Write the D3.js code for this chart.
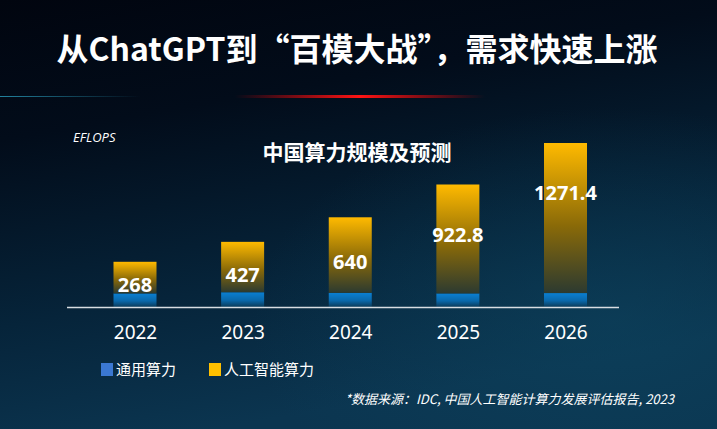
<!DOCTYPE html>
<html>
<head>
<meta charset="utf-8">
<script src="https://cdn.jsdelivr.net/npm/d3@7"></script>
<style>
  html, body { margin: 0; padding: 0; background: #020a16; }
  svg { display: block; font-family: "Noto Sans CJK SC", "Noto Sans", sans-serif; }
</style>
</head>
<body>
<div id="chart"></div>
<script>
// data
var years = ["2022", "2023", "2024", "2025", "2026"];
var generalValues = [115, 125, 120, 115, 118];      // 通用算力 (estimated from bar)
var aiValues = [268, 427, 640, 922.8, 1271.4];      // 人工智能算力
var aiLabels = ["268", "427", "640", "922.8", "1271.4"];
var legendNames = ["通用算力", "人工智能算力"];

var width = 717, height = 429;

var svg = d3.select("#chart")
  .append("svg")
  .attr("width", width)
  .attr("height", height);

var defs = svg.append("defs");

// background
var bg = defs.append("linearGradient").attr("id", "bg")
  .attr("x1", "0").attr("y1", "0").attr("x2", "0.3").attr("y2", "1");
bg.append("stop").attr("offset", "0%").attr("stop-color", "#01050f");
bg.append("stop").attr("offset", "30%").attr("stop-color", "#020c1a");
bg.append("stop").attr("offset", "70%").attr("stop-color", "#06243a");
bg.append("stop").attr("offset", "100%").attr("stop-color", "#0b3550");

var glow = defs.append("radialGradient").attr("id", "glow")
  .attr("cx", "0.85").attr("cy", "0.75").attr("r", "0.5");
glow.append("stop").attr("offset", "0%").attr("stop-color", "#0d4560").attr("stop-opacity", 0.55);
glow.append("stop").attr("offset", "100%").attr("stop-color", "#0d4560").attr("stop-opacity", 0);

// red line under title
var red = defs.append("linearGradient").attr("id", "redline");
red.append("stop").attr("offset", "0%").attr("stop-color", "#ff0000").attr("stop-opacity", 0);
red.append("stop").attr("offset", "50%").attr("stop-color", "#ff1414").attr("stop-opacity", 1);
red.append("stop").attr("offset", "100%").attr("stop-color", "#ff0000").attr("stop-opacity", 0);

var cyan = defs.append("linearGradient").attr("id", "cyanline");
cyan.append("stop").attr("offset", "0%").attr("stop-color", "#2aa0c0").attr("stop-opacity", 0.8);
cyan.append("stop").attr("offset", "100%").attr("stop-color", "#2aa0c0").attr("stop-opacity", 0);

// bar gradients
var gy = defs.append("linearGradient").attr("id", "gyellow")
  .attr("x1", 0).attr("y1", 0).attr("x2", 0).attr("y2", 1);
gy.append("stop").attr("offset", "0%").attr("stop-color", "#ffba00");
gy.append("stop").attr("offset", "55%").attr("stop-color", "#8a6a08");
gy.append("stop").attr("offset", "100%").attr("stop-color", "#2c3a30");

var gb = defs.append("linearGradient").attr("id", "gblue")
  .attr("x1", 0).attr("y1", 0).attr("x2", 0).attr("y2", 1);
gb.append("stop").attr("offset", "0%").attr("stop-color", "#0a7fd2");
gb.append("stop").attr("offset", "55%").attr("stop-color", "#0a68aa");
gb.append("stop").attr("offset", "100%").attr("stop-color", "#0b3a58");

svg.append("rect").attr("width", width).attr("height", height).attr("fill", "url(#bg)");
svg.append("rect").attr("width", width).attr("height", height).attr("fill", "url(#glow)");

// title
svg.append("text")
  .attr("x", 357).attr("y", 61)
  .attr("text-anchor", "middle")
  .attr("fill", "#ffffff")
  .style("font-size", "32px")
  .style("font-weight", "bold")
  .text("从ChatGPT到“百模大战”，需求快速上涨");

svg.append("rect").attr("x", 235).attr("y", 95).attr("width", 250).attr("height", 3)
  .attr("fill", "url(#redline)");
svg.append("rect").attr("x", 0).attr("y", 96).attr("width", 140).attr("height", 1)
  .attr("fill", "url(#cyanline)");

// unit + chart title
svg.append("text")
  .attr("x", 73).attr("y", 142)
  .attr("fill", "#ffffff")
  .style("font-size", "13px")
  .style("font-style", "italic")
  .style("font-family", "'Open Sans', 'Noto Sans', sans-serif")
  .text("EFLOPS");

svg.append("text")
  .attr("x", 357).attr("y", 160)
  .attr("text-anchor", "middle")
  .attr("fill", "#ffffff")
  .style("font-size", "21px")
  .style("font-weight", "bold")
  .text("中国算力规模及预测");

// scales
var baseY = 307;
var totals = years.map(function(d, i) { return generalValues[i] + aiValues[i]; });

var x = d3.scalePoint()
  .domain(years)
  .range([135, 565.5]);

var y = d3.scaleLinear()
  .domain([0, d3.max(totals)])
  .range([baseY, 143]);

var barW = 43;

var bars = svg.append("g");

// 通用算力
bars.selectAll(".gen")
  .data(years)
  .enter()
  .append("rect")
  .attr("class", "gen")
  .attr("x", function(d) { return x(d) - barW / 2; })
  .attr("y", function(d, i) { return y(generalValues[i]); })
  .attr("width", barW)
  .attr("height", function(d, i) { return y(0) - y(generalValues[i]); })
  .attr("fill", "url(#gblue)");

// 人工智能算力
bars.selectAll(".ai")
  .data(years)
  .enter()
  .append("rect")
  .attr("class", "ai")
  .attr("x", function(d) { return x(d) - barW / 2; })
  .attr("y", function(d, i) { return y(totals[i]); })
  .attr("width", barW)
  .attr("height", function(d, i) { return y(generalValues[i]) - y(totals[i]); })
  .attr("fill", "url(#gyellow)");

// value labels
bars.selectAll(".lbl")
  .data(years)
  .enter()
  .append("text")
  .attr("class", "lbl")
  .attr("x", function(d) { return x(d); })
  .attr("y", function(d, i) {
    var top = y(totals[i]);
    var h = y(0) - top;
    return top + Math.min(50, h / 2);
  })
  .attr("dy", "0.36em")
  .attr("text-anchor", "middle")
  .attr("fill", "#ffffff")
  .style("font-size", "20px")
  .style("font-weight", "bold")
  .style("font-family", "'Noto Sans', sans-serif")
  .text(function(d, i) { return aiLabels[i]; });

// x axis
var xAxis = svg.append("g")
  .attr("transform", "translate(0," + (baseY + 0.5) + ")")
  .call(d3.axisBottom(x).tickSize(0).tickPadding(18));
xAxis.select(".domain").remove();
xAxis.append("line")
  .attr("x1", 67).attr("x2", 619)
  .attr("stroke", "#d8dde2").attr("stroke-width", 1.5);
xAxis.selectAll(".tick text")
  .attr("fill", "#ffffff")
  .style("font-size", "19px")
  .style("font-family", "'Noto Sans', sans-serif");

// legend
var legendColors = ["#3b78d2", "#ffc000"];
var legendX = [101, 209];
var legend = svg.append("g").selectAll("g")
  .data(legendNames)
  .enter()
  .append("g")
  .attr("transform", function(d, i) { return "translate(" + legendX[i] + ",363)"; });
legend.append("rect")
  .attr("width", 12).attr("height", 13)
  .attr("fill", function(d, i) { return legendColors[i]; });
legend.append("text")
  .attr("x", 15).attr("y", 12)
  .attr("fill", "#ffffff")
  .style("font-size", "15px")
  .text(function(d) { return d; });

// source
svg.append("text")
  .attr("x", 674).attr("y", 404)
  .attr("text-anchor", "end")
  .attr("fill", "#ffffff")
  .style("font-size", "13px")
  .style("font-style", "italic")
  .text("*数据来源：IDC, 中国人工智能计算力发展评估报告, 2023");
</script>
</body>
</html>
